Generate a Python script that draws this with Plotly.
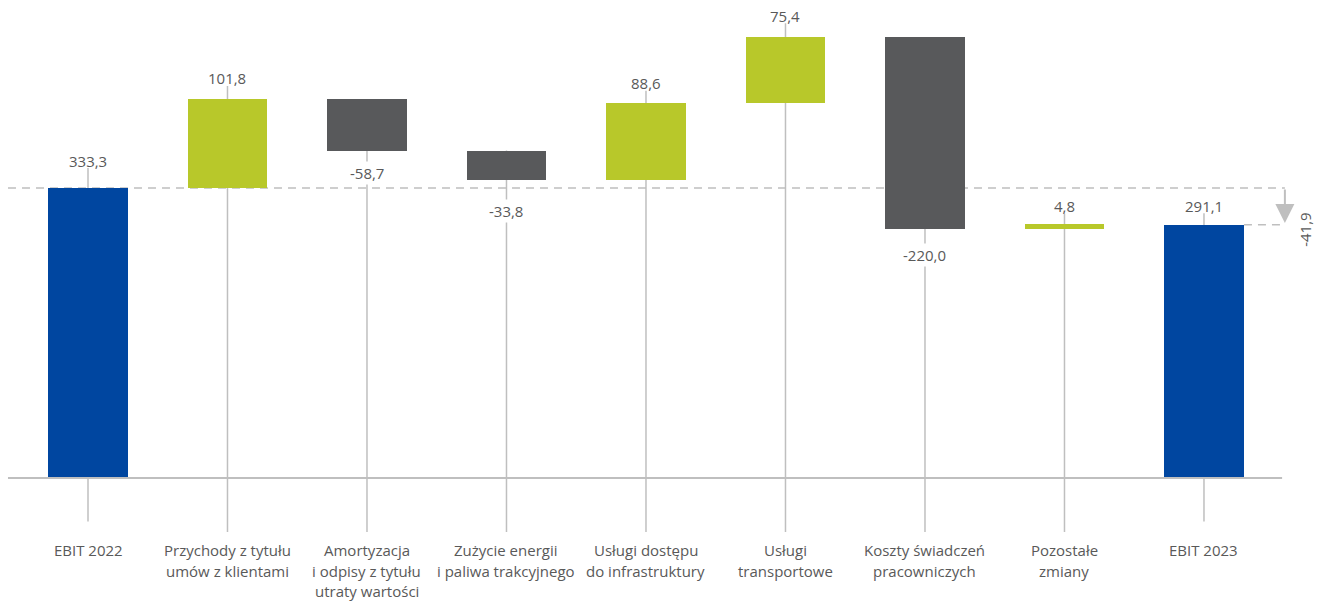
import plotly.graph_objects as go

categories = ["EBIT 2022", "Przychody z tytułu<br>umów z klientami",
              "Amortyzacja<br>i odpisy z tytułu<br>utraty wartości",
              "Zużycie energii<br>i paliwa trakcyjnego",
              "Usługi dostępu<br>do infrastruktury", "Usługi<br>transportowe",
              "Koszty świadczeń<br>pracowniczych", "Pozostałe<br>zmiany", "EBIT 2023"]
values = [333.3, 101.8, -58.7, -33.8, 88.6, 75.4, -220.0, 4.8, 291.1]
kinds = ["total", "delta", "delta", "delta", "delta", "delta", "delta", "delta", "total"]
change_label = "-41,9"

# label distance from bar edge (px), as placed in the original
label_gap = [27, 20.5, 22, 31, 19, 21, 26, 18, 18.5]

BLUE = "#0046A0"
GREEN = "#B8C82A"
DARK = "#58595B"
TEXT = "#595959"
LINE = "#BFBFBF"
FONT = "Open Sans"
FS = 15
PX_PER_UNIT = 0.87

def fmt(v):
    return f"{v:.1f}".replace(".", ",")

x = list(range(len(values)))
bases, heights, colors, tops, bottoms = [], [], [], [], []
cum = 0.0
for v, k in zip(values, kinds):
    if k == "total":
        b, h, c = 0.0, v, BLUE
        cum = v
    else:
        if v >= 0:
            b, h, c = cum, v, GREEN
        else:
            b, h, c = cum + v, -v, DARK
        cum += v
    bases.append(b); heights.append(h); colors.append(c)
    tops.append(b + h); bottoms.append(b)

shapes = []
# stems (drawn below the bars)
for i, (v, k) in enumerate(zip(values, kinds)):
    low = -50 if k == "total" else -62
    high = tops[i] + (label_gap[i] - 7) / PX_PER_UNIT if v >= 0 else tops[i]
    shapes.append(dict(type="line", xref="x", yref="y", x0=i, x1=i, y0=low, y1=high,
                       line=dict(color=LINE, width=1.5), layer="below"))

fig = go.Figure()
fig.add_trace(go.Bar(x=x, y=heights, base=bases, marker=dict(color=colors, line=dict(width=0)),
                     width=0.573, showlegend=False, hoverinfo="skip"))

annotations = []
for i, v in enumerate(values):
    if v >= 0:
        annotations.append(dict(x=i, y=tops[i], text=fmt(v), showarrow=False,
                                yshift=label_gap[i] + 0.5,
                                font=dict(family=FONT, size=FS, color=TEXT)))
    else:
        annotations.append(dict(x=i, y=bottoms[i], text=fmt(v), showarrow=False,
                                yshift=-label_gap[i],
                                bgcolor="white", borderpad=1,
                                font=dict(family=FONT, size=FS, color=TEXT)))
    for j, line in enumerate(categories[i].split("<br>")):
        annotations.append(dict(x=i, y=-83, text=line, showarrow=False, yanchor="middle",
                                yshift=-20.5 * j,
                                font=dict(family=FONT, size=FS, color=TEXT)))

first_total = values[0]
last_total = values[-1]
xa = 8.58
annotations.append(dict(x=xa, y=last_total + 2, ax=xa, ay=first_total, axref="x", ayref="y",
                        xref="x", yref="y", text="", showarrow=True, arrowhead=2,
                        arrowsize=1.9, arrowwidth=2, arrowcolor=LINE, standoff=0))
annotations.append(dict(x=xa, y=last_total - 6, text=change_label, showarrow=False, textangle=-90,
                        xshift=20, font=dict(family=FONT, size=FS, color=TEXT)))

shapes += [
    dict(type="line", xref="x", yref="y", x0=-0.5735, x1=xa, y0=first_total, y1=first_total,
         line=dict(color=LINE, width=1.5, dash="8px,6px"), layer="below"),
    dict(type="line", xref="x", yref="y", x0=8 + 0.2865, x1=xa, y0=last_total, y1=last_total,
         line=dict(color=LINE, width=1.5, dash="8px,6px"), layer="below"),
    dict(type="line", xref="x", yref="y", x0=-0.5735, x1=8.56, y0=0, y1=0,
         line=dict(color=LINE, width=2), layer="above"),
]

fig.update_layout(
    width=1322, height=602, margin=dict(l=0, r=0, t=0, b=0),
    plot_bgcolor="white", paper_bgcolor="white",
    xaxis=dict(range=[-0.6308, 8.846], visible=False),
    yaxis=dict(range=[-142.5, 549.4], visible=False),
    annotations=annotations, shapes=shapes, bargap=0,
)
fig.write_html("out.html", config={"displayModeBar": False},
               post_script="document.body.style.margin='0';document.body.style.overflow='hidden';")
